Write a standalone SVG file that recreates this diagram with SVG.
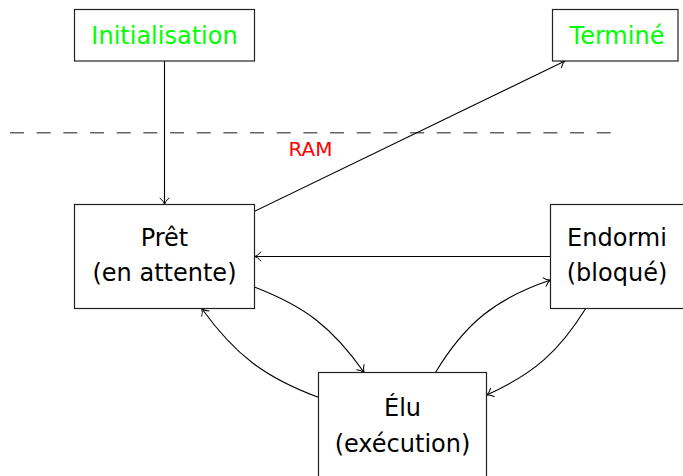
<svg xmlns="http://www.w3.org/2000/svg" width="683" height="476" viewBox="0 0 683 476">
<style>
.box{fill:#fff;stroke:#222;stroke-width:1.2}
.t{font-family:"DejaVu Sans",sans-serif;font-size:24px;text-anchor:middle;fill:#000}
.g{fill:#00ff00}
.c{fill:none;stroke:#000;stroke-width:1.1;marker-end:url(#arr)}
</style>
<defs>
<marker id="arr" markerUnits="userSpaceOnUse" viewBox="-8 -6 10 12" markerWidth="10" markerHeight="12" refX="0" refY="0" orient="auto" overflow="visible">
<path d="M-6.5,-4.8 C-4.3,-1.7 -1.7,-0.5 0,0 C-1.7,0.5 -4.3,1.7 -6.5,4.8" fill="none" stroke="#000" stroke-width="1"/>
</marker>
</defs>
<rect width="683" height="476" fill="#fff"/>
<line x1="10" y1="132.7" x2="612" y2="132.7" stroke="#666" stroke-width="1.6" stroke-dasharray="14 12.67"/>
<text x="310.5" y="156" font-family="DejaVu Sans,sans-serif" font-size="20" fill="#ff0000" text-anchor="middle">RAM</text>
<g id="connectors">
<path class="c" d="M164.5,61 L164.5,204.5"/>
<path class="c" d="M254,211.5 L565,61"/>
<path class="c" d="M550.5,256.5 L254.5,256.5"/>
<path class="c" d="M255,287.3 C305.5,306.7 332.9,328 364,372.3"/>
<path class="c" d="M318.3,397.3 C264.5,377.3 235.2,354.9 201.7,308.5"/>
<path class="c" d="M435.5,372.5 C465,323.4 495.8,298.5 550.5,280"/>
<path class="c" d="M585.7,308.5 C558.6,352.1 533.6,373.9 486.7,395"/>
</g>
<g id="init">
<rect class="box" x="74.5" y="9.5" width="180" height="51.5"/>
<text class="t g" x="164.5" y="44.3">Initialisation</text>
</g>
<g id="termine">
<rect class="box" x="552.5" y="9.5" width="125.5" height="51.5"/>
<text class="t g" x="617" y="44.3">Terminé</text>
</g>
<g id="pret">
<rect class="box" x="74.5" y="204.5" width="180" height="104"/>
<text class="t" x="164.5" y="245.5">Prêt</text>
<text class="t" x="164.5" y="280.5">(en attente)</text>
</g>
<g id="endormi">
<rect class="box" x="550.5" y="204.5" width="140" height="104"/>
<text class="t" x="617" y="245.5">Endormi</text>
<text class="t" x="617" y="280.5">(bloqué)</text>
</g>
<g id="elu">
<rect class="box" x="318.5" y="372.5" width="168" height="120"/>
<text class="t" x="402.5" y="415.7">Élu</text>
<text class="t" x="402.5" y="451.5">(exécution)</text>
</g>
</svg>
